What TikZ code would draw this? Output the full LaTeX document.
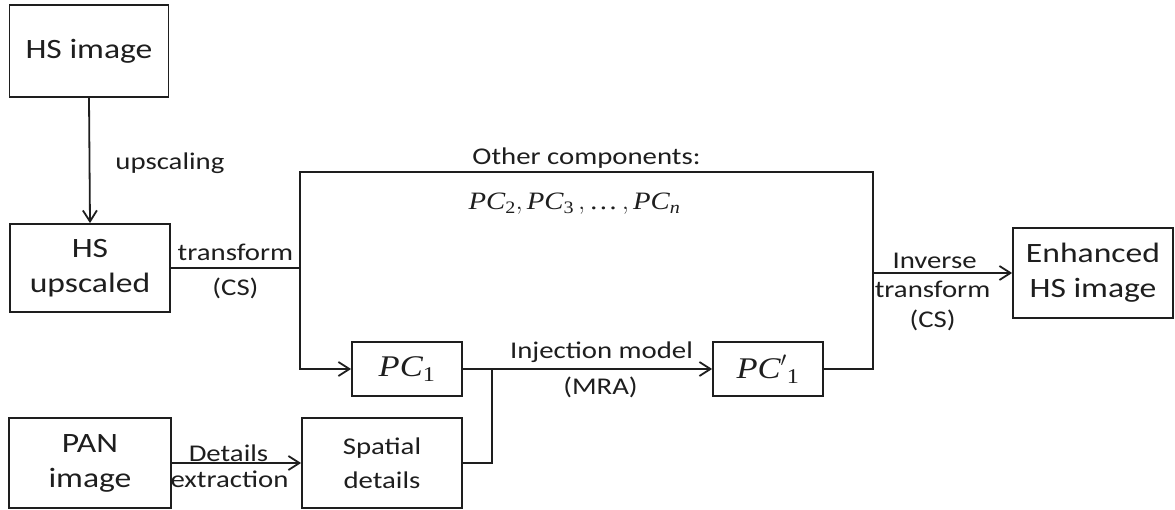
\documentclass[tikz,border=0pt]{standalone}
\usepackage{fontspec}
\setmainfont{Carlito}[FakeStretch=1.2]
\newfontfamily\pcfont{Liberation Serif}[FakeStretch=1.15]
\usepackage{amsmath}
\usetikzlibrary{arrows.meta}
\definecolor{inkgray}{RGB}{30,30,30}
\newcommand\pcsym[1]{\text{\pcfont\itshape PC}_{\text{\pcfont #1}}}

\begin{document}
\begin{tikzpicture}[x=1pt, y=-1pt, line width=1.8pt, color=inkgray,
    box/.style={draw, align=center, inner sep=0pt, font=\fontsize{28}{35}\selectfont},
    lbl/.style={font=\fontsize{24}{32}\selectfont, inner sep=5pt, align=center},
    arr/.style={-{Straight Barb[length=11pt, width=14pt]}}]
    \useasboundingbox (0,0) rectangle (1175,510);

    % boxes
    \node[box, minimum width=159pt, minimum height=92pt] (hsimg) at (89,51) {HS image};
    \node[box, minimum width=160pt, minimum height=88pt] (hsup) at (90,268) {HS\\upscaled};
    \node[box, minimum width=162pt, minimum height=90pt] (pan) at (90,463) {PAN\\image};
    \node[box, minimum width=160pt, minimum height=90pt, font=\fontsize{24}{34}\selectfont] (spat) at (382,463) {Spatial\\details};
    \node[box, minimum width=110pt, minimum height=54pt, font=\fontsize{30}{36}\selectfont] (pc1) at (407,369) {$\pcsym{1}$};
    \node[box, minimum width=110pt, minimum height=54pt, font=\fontsize{30}{36}\selectfont] (pcp) at (768,369) {${\text{\pcfont\itshape PC}'}_{\text{\pcfont 1}}$};
    \node[box, minimum width=160pt, minimum height=90pt] (enh) at (1093,273) {Enhanced\\HS image};

    % corners of the connectors
    \coordinate (split) at (300,268);
    \coordinate (tl) at (300,172);
    \coordinate (tr) at (873,172);
    \coordinate (merge) at (873,273);
    \coordinate (join) at (492,369);

    \draw[arr] (hsimg.south) -- (hsup.north)
        node[lbl, pos=0.5, anchor=west, xshift=20pt, yshift=-3pt] (upslbl) {upscaling};
    \draw (hsup.east) -- (split)
        node[lbl, midway, above, inner sep=6pt] (trlbl) {transform}
        node[lbl, midway, below, inner sep=9pt] (cslbl) {(CS)};
    \draw (split) -- (tl) -- (tr)
        node[lbl, midway, above, inner sep=3pt] (othlbl) {Other components:}
        node[lbl, midway, below, xshift=-12pt, inner sep=20pt, font=\fontsize{25}{32}\selectfont] (pcnlbl) {$\pcsym{2}, \pcsym{3}\,, \text{\pcfont …}\,, \text{\pcfont\itshape PC}_{\text{\pcfont\itshape n}}$}
        -- (merge) |- (pcp.east);
    \draw[arr] (split) |- (pc1.west);
    \draw[arr] (pc1.east) -- (pcp.west)
        node[lbl, midway, above, xshift=14pt, inner sep=5pt] (injlbl) {Injection model}
        node[lbl, midway, below, xshift=13pt, inner sep=7pt] (mralbl) {(MRA)};
    \draw (spat.east) -| (join);
    \draw[arr] (pan.east) -- (spat.west)
        node[lbl, midway, above, xshift=-8pt, inner sep=0pt] (detlbl) {Details}
        node[lbl, midway, below, xshift=-7pt, inner sep=7pt] (extlbl) {extraction};
    \draw[arr] (merge) -- (enh.west)
        node[lbl, midway, above, xshift=-8pt, inner sep=3pt] (invlbl) {Inverse}
        node[lbl, midway, below, xshift=-10pt, inner sep=7pt, font=\fontsize{24}{30}\selectfont] (invtrlbl) {transform\\(CS)};
\end{tikzpicture}
\end{document}
